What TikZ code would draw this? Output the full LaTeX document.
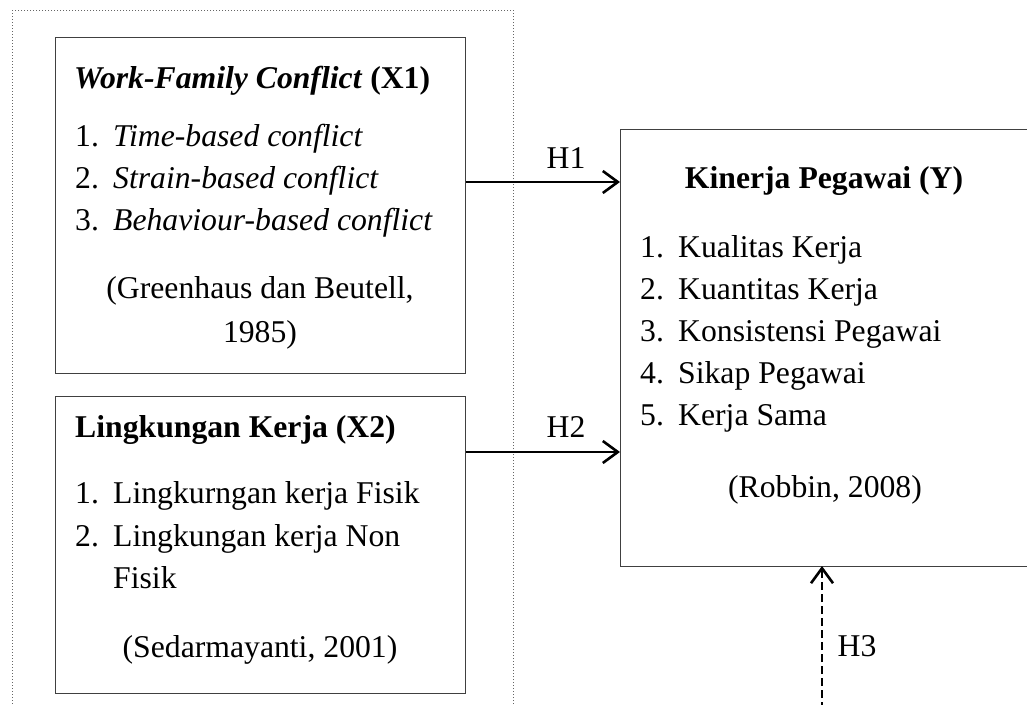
\documentclass[tikz,border=0pt]{standalone}
\usepackage{fontspec}
\setmainfont{Liberation Serif}
\usetikzlibrary{arrows.meta}
\begin{document}
\begin{tikzpicture}[x=1pt,y=-1pt,
  box/.style={draw=black!75,line width=1.4pt,fill=none},
  txt/.style={inner sep=0pt,font=\fontsize{31.7pt}{38pt}\selectfont},
  lbl/.style={txt,anchor=base west},
  ctr/.style={txt,anchor=base},
  conn/.style={line width=2.6pt,-{Straight Barb[length=15pt,width=22pt,line width=2.6pt]}},
  outer/.style={draw=black!60,line width=1pt,dotted}]
\useasboundingbox (0,0) rectangle (1027,704);
\clip (0,0) rectangle (1027,704);
% outer dotted frame
\draw[outer] (12,10) rectangle (513,720);
% boxes
\node[box,anchor=north west,minimum width=410pt,minimum height=336pt,inner sep=0pt] (x1) at (55,37) {};
\node[box,anchor=north west,minimum width=410pt,minimum height=297pt,inner sep=0pt] (x2) at (55,396) {};
\node[box,anchor=north west,minimum width=430pt,minimum height=437pt,inner sep=0pt] (y) at (620,129) {};
% X1 text
\node[lbl] (x1t) at (74,88) {\textbf{\textit{Work-Family Conflict} (X1)}};
\node[lbl] (x1n1) at (75,146) {1.};
\node[lbl] (x1i1) at (113,146) {\textit{Time-based conflict}};
\node[lbl] (x1n2) at (75,188) {2.};
\node[lbl] (x1i2) at (113,188) {\textit{Strain-based conflict}};
\node[lbl] (x1n3) at (75,230) {3.};
\node[lbl] (x1i3) at (113,230) {\textit{Behaviour-based conflict}};
\node[ctr] (x1s1) at (260,298) {(Greenhaus dan Beutell,};
\node[ctr] (x1s2) at (260,342) {1985)};
% X2 text
\node[lbl] (x2t) at (75,437) {\textbf{Lingkungan Kerja (X2)}};
\node[lbl] (x2n1) at (75,503) {1.};
\node[lbl] (x2i1) at (113,503) {Lingkurngan kerja Fisik};
\node[lbl] (x2n2) at (75,546) {2.};
\node[lbl] (x2i2) at (113,546) {Lingkungan kerja Non};
\node[lbl] (x2i2b) at (113,588) {Fisik};
\node[ctr] (x2s) at (260,657) {(Sedarmayanti, 2001)};
% Y text
\node[ctr] (yt) at (824,188) {\textbf{Kinerja Pegawai (Y)}};
\node[lbl] (yn1) at (640,257) {1.};
\node[lbl] (yi1) at (678,257) {Kualitas Kerja};
\node[lbl] (yn2) at (640,299) {2.};
\node[lbl] (yi2) at (678,299) {Kuantitas Kerja};
\node[lbl] (yn3) at (640,341) {3.};
\node[lbl] (yi3) at (678,341) {Konsistensi Pegawai};
\node[lbl] (yn4) at (640,383) {4.};
\node[lbl] (yi4) at (678,383) {Sikap Pegawai};
\node[lbl] (yn5) at (640,425) {5.};
\node[lbl] (yi5) at (678,425) {Kerja Sama};
\node[ctr] (ys) at (825,497) {(Robbin, 2008)};
% connectors
\coordinate (a1) at (x1.east |- 0,182);
\coordinate (b1) at (y.west |- 0,182);
\draw[conn] (a1) -- (b1);
\node[ctr] (h1) at (566,168) {H1};
\coordinate (a2) at (x2.east |- 0,452);
\coordinate (b2) at (y.west |- 0,452);
\draw[conn] (a2) -- (b2);
\node[ctr] (h2) at (566,437) {H2};
\coordinate (a3) at (822,710);
\coordinate (b3) at (822,566);
\draw[conn,dash pattern=on 8pt off 4pt] (a3) -- (b3);
\node[ctr] (h3) at (857,656) {H3};
\end{tikzpicture}
\end{document}
